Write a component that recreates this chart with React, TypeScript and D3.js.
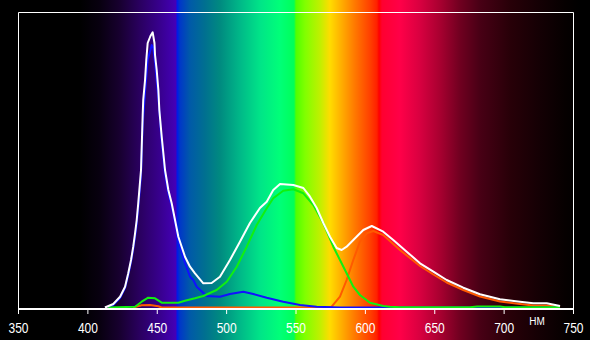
import React from "react";
import * as d3 from "d3";

const W = 590;
const H = 340;

// wavelength ticks (nm)
const ticks = [350, 400, 450, 500, 550, 600, 650, 700, 750];
const unitLabel = "НМ";

// Total (white) spectrum: [nm, intensity]
const whiteSeries: [number, number][] = [
  [412.3, 0], [418.3, 3.5], [423.2, 10.8], [426.8, 20.8], [429.1, 34.2], [431.1, 47.5],
  [432.7, 60.8], [434.0, 74.2], [435.2, 87.5], [436.3, 104.2], [438.3, 137.5], [439.5, 192.5],
  [439.9, 207.5], [441.2, 227.5], [442.1, 247.5], [443.1, 264.5], [445.1, 271.5], [446.7, 275.2],
  [448.0, 264.5], [448.4, 252.5], [449.6, 237.5], [450.8, 217.5], [451.5, 197.5], [453.2, 170.8],
  [455.6, 137.5], [458.0, 117.5], [460.4, 104.2], [462.8, 87.5], [465.2, 70.8], [467.6, 60.8],
  [470.0, 50.8], [473.6, 40.8], [477.2, 34.2], [483.2, 24.2], [489.2, 24.5], [495.2, 30.8],
  [502.4, 47.5], [509.6, 65.8], [516.8, 84.5], [524.0, 99.5], [528.9, 105.8], [533.6, 117.5],
  [538.5, 123.5], [548.1, 122.5], [555.3, 119.5], [560.1, 110.8], [564.9, 99.5], [569.7, 84.5],
  [574.5, 70.8], [579.3, 59.5], [582.9, 57.5], [586.5, 60.8], [591.3, 67.5], [598.5, 77.5],
  [604.6, 81.5], [612.9, 75.8], [620.1, 67.5], [629.8, 55.8], [639.4, 44.2], [649.0, 35.8],
  [658.6, 27.5], [670.6, 19.8], [682.6, 13.2], [697.0, 8.2], [711.4, 5.8], [721.0, 4.2],
  [730.7, 4.2], [740.3, 1.5],
];

// Blue channel
const blueSeries: [number, number][] = [
  [414.5, 0], [418.3, 2.5], [423.2, 9.5], [426.8, 19.5], [429.1, 32.5], [431.1, 45.5],
  [432.7, 58.5], [434.0, 70.5], [435.2, 83.5], [436.3, 99.5], [438.3, 131.5], [439.5, 182.5],
  [441.2, 215.5], [443.1, 247.5], [445.1, 257.5], [446.0, 262.5], [447.2, 259.5], [448.4, 245.5],
  [450.8, 209.5], [453.2, 165.5], [455.6, 133.5], [458.0, 114.5], [460.4, 101.5], [462.8, 85.5],
  [465.2, 67.5], [467.6, 55.5], [470.0, 44.5], [473.6, 30.8], [476.0, 27.5], [478.4, 20.8],
  [485.6, 11.5], [495.2, 10.8], [502.4, 13.5], [512.0, 15.8], [519.2, 13.5], [528.9, 9.8],
  [540.8, 5.8], [552.9, 2.5], [564.9, 0.8], [581.7, 0], [740.3, 0],
];

// Green channel
const greenSeries: [number, number][] = [
  [414.7, 0], [434.0, 0.8], [438.8, 5.8], [443.5, 9.8], [448.4, 9.2], [453.2, 4.8],
  [465.2, 4.8], [470.0, 6.8], [477.2, 9.2], [483.2, 11.5], [492.8, 17.5], [500.1, 25.8],
  [507.3, 40.8], [514.5, 60.8], [521.7, 82.5], [528.9, 99.2], [533.6, 109.2], [540.8, 116.8],
  [548.1, 118.2], [555.3, 114.2], [562.5, 102.5], [569.7, 84.2], [576.9, 60.8], [581.7, 47.5],
  [586.5, 34.2], [591.3, 20.8], [596.1, 12.5], [603.3, 4.8], [612.9, 1.5], [617.7, 0.8],
  [624.9, 0.2], [675.4, 0.2], [680.5, 1], [697.0, 1], [700.6, 0.2], [740.3, 0.2],
];

// Red channel
const redSeries: [number, number][] = [
  [432.5, 0], [438.8, 2.2], [444.8, 2.5], [450.8, 1.2], [453.2, 0], [570.9, 0],
  [575.7, 0.8], [581.7, 10.8], [586.5, 27.5], [591.3, 47.5], [596.1, 65.8], [601.0, 74.2],
  [605.7, 76.5], [612.9, 72.5], [624.9, 57.5], [639.4, 41.5], [649.0, 33], [658.6, 25],
  [670.6, 17.5], [682.6, 11], [697.0, 6], [711.4, 3.5], [721.0, 2], [730.7, 2], [740.3, 0.5],
];

// background spectrum colours: [pixel x, colour]
const spectrumStops: [number, string][] = [
  [0, "#000000"], [80, "#000000"], [100, "#080010"], [120, "#180030"], [140, "#2a0060"],
  [160, "#38008e"], [176, "#4400b8"], [177, "#0018e8"], [180, "#0038c8"], [190, "#005aa8"],
  [205, "#007090"], [220, "#008a80"], [240, "#00b888"], [260, "#00e488"], [280, "#00ff78"],
  [294, "#00ff58"], [296, "#50ff00"], [305, "#80ff00"], [320, "#c0f000"], [330, "#ffdc00"],
  [340, "#ffb400"], [355, "#ff7800"], [370, "#ff4000"], [377, "#ff2000"], [379, "#ff0000"],
  [382, "#ff0030"], [400, "#ff0048"], [420, "#d80040"], [440, "#a80030"], [460, "#700020"],
  [480, "#480015"], [510, "#280008"], [540, "#140004"], [565, "#060000"], [580, "#000000"],
  [590, "#000000"],
];

export default function App() {
  const x = d3.scaleLinear().domain([350, 750]).range([18.5, 573.5]);
  const y = d3.scaleLinear().domain([0, 300]).range([307.5, 7.5]);
  const line = d3
    .line<[number, number]>()
    .x((d) => x(d[0]))
    .y((d) => y(d[1]))
    .curve(d3.curveLinear);

  const series: { data: [number, number][]; color: string }[] = [
    { data: redSeries, color: "#ff5a00" },
    { data: blueSeries, color: "#1010ff" },
    { data: greenSeries, color: "#10f010" },
    { data: whiteSeries, color: "#ffffff" },
  ];

  return (
    <div style={{ position: "fixed", left: 0, top: 0, width: W, height: H }}>
      <svg width={W} height={H} style={{ display: "block" }}>
        <defs>
          <linearGradient id="spec" x1="0" x2={W} y1="0" y2="0" gradientUnits="userSpaceOnUse">
            {spectrumStops.map(([px, c], i) => (
              <stop key={i} offset={px / W} stopColor={c} />
            ))}
          </linearGradient>
        </defs>
        <rect x={0} y={0} width={W} height={H} fill="url(#spec)" />
        {/* frame */}
        <line x1={18.5} x2={573.5} y1={12.5} y2={12.5} stroke="#fff" strokeWidth={1} />
        <line x1={18.5} x2={18.5} y1={12.5} y2={309} stroke="#fff" strokeWidth={1} />
        <line x1={573.5} x2={573.5} y1={12.5} y2={309} stroke="#fff" strokeWidth={1} />
        {series.map((s, i) => (
          <path
            key={i}
            d={line(s.data) || ""}
            fill="none"
            stroke={s.color}
            strokeWidth={2}
            strokeLinejoin="round"
          />
        ))}
        {/* x axis */}
        <line x1={18.5} x2={573.5} y1={309} y2={309} stroke="#fff" strokeWidth={2} />
        {ticks.map((t) => (
          <g key={t}>
            <line x1={x(t)} x2={x(t)} y1={309} y2={314} stroke="#fff" strokeWidth={1} />
            <text
              x={x(t)}
              y={333}
              fill="#fff"
              fontSize={14}
              fontFamily="'Liberation Sans', Arial, sans-serif"
              textAnchor="middle"
              textLength={20}
              lengthAdjust="spacingAndGlyphs"
            >
              {t}
            </text>
          </g>
        ))}
        <text
          x={537}
          y={325}
          fill="#fff"
          fontSize={10}
          fontFamily="'Liberation Sans', Arial, sans-serif"
          textAnchor="middle"
        >
          {unitLabel}
        </text>
      </svg>
    </div>
  );
}
